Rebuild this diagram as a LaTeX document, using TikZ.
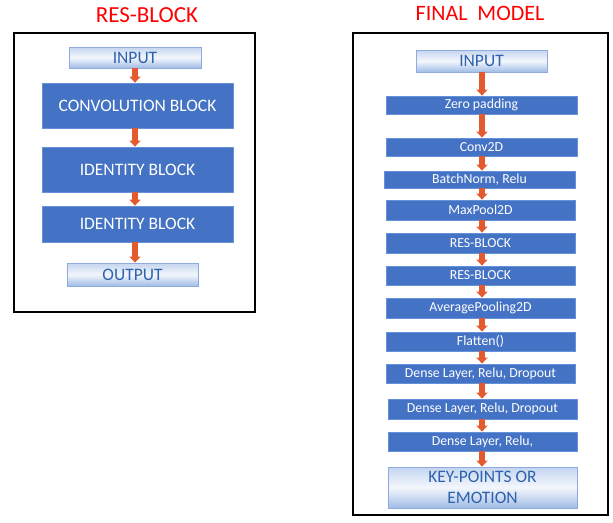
\documentclass[tikz,border=0pt]{standalone}
\usepackage{fontspec}
\setmainfont{Carlito}
\usetikzlibrary{arrows.meta}
\definecolor{blockblue}{RGB}{68,114,196}
\definecolor{blockedge}{RGB}{100,145,215}
\definecolor{pale}{RGB}{196,213,240}
\definecolor{paledeep}{RGB}{160,188,230}
\definecolor{paleedge}{RGB}{143,170,220}
\definecolor{inktext}{RGB}{46,98,172}
\definecolor{arrowred}{RGB}{226,90,46}
\begin{document}
\begin{tikzpicture}[x=1pt, y=-1pt,
    bluebox/.style={draw=blockedge, line width=0.8pt, fill=blockblue, text=white, inner sep=0pt, align=center},
    palebox/.style={draw=paleedge, line width=0.8pt, top color=pale, bottom color=paledeep, middle color=white!80!pale, text=inktext, inner sep=0pt, align=center},
    frame/.style={draw=black, line width=2pt},
    flow/.style={draw=arrowred, line width=6pt, -{Triangle[width=11pt,length=6pt]}},
    heading/.style={text=red, inner sep=0pt}]
    \useasboundingbox (0,0) rectangle (613,522);
    \def\big{\fontsize{17.5}{21}\selectfont}
    \def\small{\fontsize{13.8}{16}\selectfont}

    % left panel
    \node[heading, font=\fontsize{23}{26}\selectfont] (restitle) at (147,15) {RES-BLOCK};
    \draw[frame] (14,33) rectangle (255,312);
    \node[palebox, font=\big, minimum width=132, minimum height=21] (lin) at (135,57.5) {INPUT};
    \foreach \n/\ya/\yb/\txt in {conv/83/128/{CONVOLUTION BLOCK}, ida/147/192/{IDENTITY BLOCK}, idb/206/242/{IDENTITY BLOCK}} {
        \node[bluebox, font=\big, minimum width=191, minimum height=\yb-\ya] (\n) at (137.5,{(\ya+\yb)/2}) {\txt};
    }
    \node[palebox, font=\big, minimum width=131, minimum height=23] (lout) at (132.5,274.5) {OUTPUT};
    \foreach \a/\b in {lin/conv, conv/ida, ida/idb, idb/lout} {
        \draw[flow] (lin.south |- \a.south) -- (lin.south |- \b.north);
    }

    % right panel
    \node[heading, font=\fontsize{22}{25}\selectfont] (modeltitle) at (480,13) {FINAL\ \ MODEL};
    \draw[frame] (353,33) rectangle (608,515);
    \node[palebox, font=\big, minimum width=131, minimum height=22] (rin) at (481.5,61) {INPUT};
    \foreach \n/\xa/\xb/\ya/\yb/\txt in {
        ra/386/577/96/114/{Zero padding},
        rb/386/577/138/156/{Conv2D},
        rc/384/575/171/188/{BatchNorm, Relu},
        rd/386/575/200/220/{MaxPool2D},
        re/386/575/233/253/{RES-BLOCK},
        rf/386/575/266/285/{RES-BLOCK},
        rg/386/575/298/318/{AveragePooling2D},
        rh/386/575/332/351/{Flatten()},
        ri/386/575/364/383/{Dense Layer, Relu, Dropout},
        rj/388/577/399/419/{Dense Layer, Relu, Dropout},
        rk/388/577/432/451/{Dense Layer, Relu,}} {
        \node[bluebox, font=\small, minimum width=\xb-\xa, minimum height=\yb-\ya] (\n) at ({(\xa+\xb)/2},{(\ya+\yb)/2}) {\txt};
    }
    \node[palebox, font=\big, minimum width=189, minimum height=41] (rout) at (482.5,487.5) {KEY-POINTS OR\\EMOTION};
    \foreach \a/\b in {rin/ra, ra/rb, rb/rc, rc/rd, rd/re, re/rf, rf/rg, rg/rh, rh/ri, ri/rj, rj/rk, rk/rout} {
        \draw[flow] (482,0 |- \a.south) -- (482,0 |- \b.north);
    }
\end{tikzpicture}
\end{document}
